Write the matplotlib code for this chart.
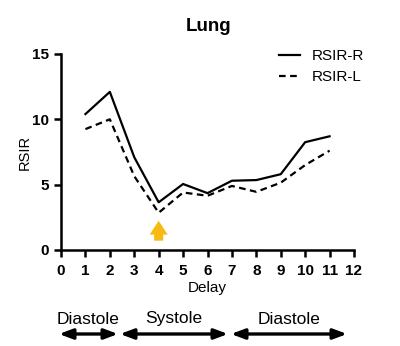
import matplotlib
matplotlib.use("Agg")
import matplotlib.pyplot as plt

plt.rcParams['font.family'] = ['Liberation Sans', 'DejaVu Sans']

# Data
delay = [1, 2, 3, 4, 5, 6, 7, 8, 9, 10, 11]
rsir_r = [10.4, 12.1, 7.1, 3.65, 5.05, 4.35, 5.3, 5.35, 5.8, 8.25, 8.7]
rsir_l = [9.25, 10.0, 5.65, 2.85, 4.4, 4.15, 4.9, 4.45, 5.15, 6.5, 7.6]
x_ticks = list(range(0, 13))
y_ticks = [0, 5, 10, 15]
phases = ["Diastole", "Systole", "Diastole"]

fig = plt.figure(figsize=(4.0, 3.46), dpi=100)
ax = fig.add_axes([0.1525, 0.2775, 0.7325, 0.5665])

ax.plot(delay, rsir_r, color='black', lw=1.6, label="RSIR-R")
ax.plot(delay, rsir_l, color='black', lw=1.6, ls=(0, (3, 2)), label="RSIR-L")

# yellow arrow marking delay 4
ax.annotate("", xy=(4, 2.45), xytext=(4, 0.5),
            arrowprops=dict(arrowstyle="simple,head_width=1.3,head_length=1.0,tail_width=0.65",
                            color='#F6BA12', lw=0))

ax.set_xlim(0, 12)
ax.set_ylim(0, 15)
ax.set_xticks(x_ticks)
ax.set_yticks(y_ticks)
for s in ['top', 'right']:
    ax.spines[s].set_visible(False)
for s in ['left', 'bottom']:
    ax.spines[s].set_linewidth(1.8)
ax.tick_params(width=1.8, length=5, labelsize=11)
ax.tick_params(axis='x', pad=5)
for lab in ax.get_xticklabels() + ax.get_yticklabels():
    lab.set_fontweight('bold')

ax.set_xlabel("Delay", fontsize=11, labelpad=2)
ax.set_ylabel("RSIR", fontsize=10.5, labelpad=0)
fig.text(208.5 / 400, 1 - 31 / 346, "Lung", ha='center', va='baseline',
         fontsize=13.5, fontweight='bold')

ax.legend(loc='upper left', frameon=False, fontsize=11, handlelength=1.37,
          handletextpad=0.8, borderpad=0, borderaxespad=0, labelspacing=0.45,
          bbox_to_anchor=(279 / 400, 1 - 49 / 346), bbox_transform=fig.transFigure)

# cardiac phase arrows below the axis
arrow_spans = [(59, 118), (120, 228), (231, 347)]
for name, (x0, x1) in zip(phases, arrow_spans):
    ax.annotate("", xy=(x0 / 400, 1 - 334 / 346), xytext=(x1 / 400, 1 - 334 / 346),
                xycoords='figure fraction', textcoords='figure fraction',
                arrowprops=dict(arrowstyle="<|-|>,head_width=0.3,head_length=0.8",
                                color='black', lw=2.4, shrinkA=0, shrinkB=0))
    fig.text((x0 + x1) / 2 / 400, 1 - 319 / 346, name, ha='center', va='center', fontsize=12.5)

fig.savefig("out.png", dpi=100)
